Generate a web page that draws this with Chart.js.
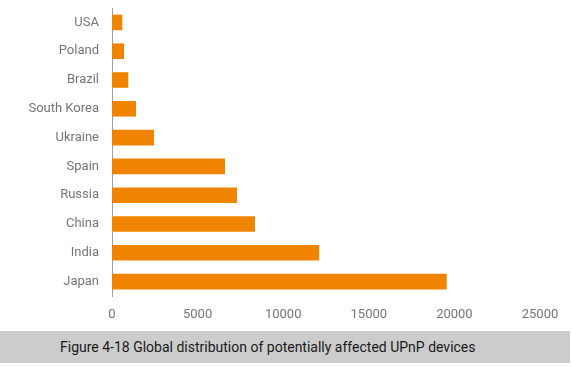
<!DOCTYPE html>
<html>
<head>
<meta charset="utf-8">
<script src="https://cdn.jsdelivr.net/npm/chart.js@4/dist/chart.umd.min.js"></script>
<style>
  html, body { margin: 0; padding: 0; background: #fff; }
  #wrap { position: relative; width: 572px; height: 330px; }
  #caption {
    position: absolute; left: 0; top: 331px; width: 570px; height: 32px;
    background: #cccccc; color: #1a1a1a;
    font-family: Roboto, sans-serif; font-size: 14px; line-height: 32px;
    white-space: nowrap; box-sizing: border-box; padding-left: 60px;
  }
</style>
</head>
<body>
<div id="wrap"><canvas id="upnpChart"></canvas></div>
<div id="caption">Figure 4-18 Global distribution of potentially affected UPnP devices</div>
<script>
// countries, top to bottom
const countries = ['USA', 'Poland', 'Brazil', 'South Korea', 'Ukraine', 'Spain', 'Russia', 'China', 'India', 'Japan'];
// device counts
const deviceCounts = [600, 700, 950, 1400, 2450, 6600, 7300, 8350, 12100, 19550];
const xTicks = [0, 5000, 10000, 15000, 20000, 25000];

new Chart(document.getElementById('upnpChart'), {
    type: 'bar',
    data: {
        labels: countries,
        datasets: [{
            data: deviceCounts,
            backgroundColor: '#f08300',
            barPercentage: 0.54,
            categoryPercentage: 1
        }]
    },
    options: {
        indexAxis: 'y',
        responsive: true,
        maintainAspectRatio: false,
        animation: false,
        layout: { padding: { top: 8, right: 32, bottom: 0, left: 0 } },
        plugins: { legend: { display: false }, tooltip: { enabled: false } },
        scales: {
            x: {
                min: 0,
                max: 25000,
                afterBuildTicks: s => { s.ticks = xTicks.map(v => ({ value: v })); },
                afterFit: s => { s.height = 34; },
                grid: { display: false, drawTicks: false },
                border: { display: false },
                ticks: {
                    color: '#757575',
                    padding: 11,
                    maxRotation: 0,
                    font: { family: 'Roboto', size: 13 },
                    callback: v => String(v)
                }
            },
            y: {
                afterFit: s => { s.width = 112; },
                // invisible tick marks push the labels away from the axis
                grid: { display: false, drawTicks: true, tickLength: 13, tickColor: 'rgba(0,0,0,0)' },
                border: { display: true, color: '#9e9e9e', width: 1 },
                ticks: {
                    color: '#757575',
                    padding: 0,
                    font: { family: 'Roboto', size: 13 }
                }
            }
        }
    }
});
</script>
</body>
</html>
